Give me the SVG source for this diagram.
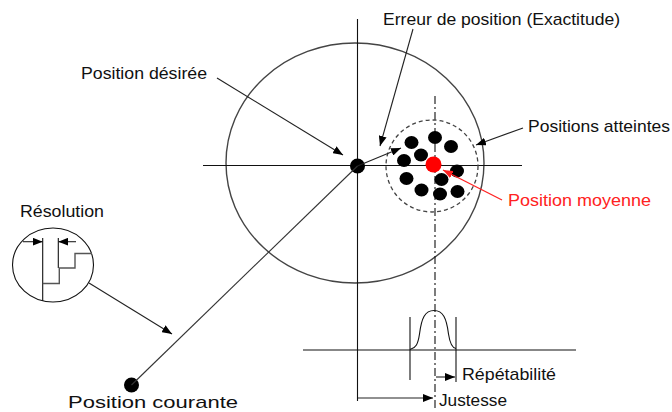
<svg xmlns="http://www.w3.org/2000/svg" width="672" height="412" viewBox="0 0 672 412">
<style>
text{font-family:"Liberation Sans",Arial,sans-serif;font-size:17px;fill:#111}
.ln{stroke:#111;stroke-width:1.1;fill:none}
.g{stroke:#444;stroke-width:1.4;fill:none}
.dot{fill:#000}
.ar{stroke:#222;stroke-width:1.1;fill:none;marker-end:url(#ah)}
</style>
<defs>
<marker id="ah" viewBox="0 0 10 8" refX="10" refY="4" markerWidth="10" markerHeight="8" markerUnits="userSpaceOnUse" orient="auto"><path d="M0,0L10,4L0,8z" fill="#000"/></marker>
<marker id="ahr" viewBox="0 0 10 8" refX="10" refY="4" markerWidth="10" markerHeight="8" markerUnits="userSpaceOnUse" orient="auto"><path d="M0,0L10,4L0,8z" fill="#f22"/></marker>
</defs>
<rect width="672" height="412" fill="#fff"/>
<g id="target">
<ellipse class="g" cx="355" cy="163" rx="129" ry="120"/>
<line class="ln" x1="203" y1="165.5" x2="522" y2="165.5"/>
<line class="ln" x1="357.5" y1="19" x2="357.5" y2="401"/>
<line class="ln" x1="435" y1="96" x2="435" y2="410" stroke-dasharray="8 3 2 3"/>
<circle cx="432" cy="166" r="46" fill="none" stroke="#444" stroke-width="1.3" stroke-dasharray="4 3"/>
</g>
<g id="desired">
<circle class="dot" cx="357.5" cy="166" r="7.5"/>
</g>
<g id="reached">
<ellipse class="dot" cx="411.5" cy="142.5" rx="7" ry="6.5"/>
<ellipse class="dot" cx="435" cy="137.5" rx="7" ry="6.5"/>
<ellipse class="dot" cx="451" cy="146.5" rx="7" ry="6.5"/>
<ellipse class="dot" cx="421" cy="155" rx="7" ry="6.5"/>
<ellipse class="dot" cx="404" cy="160.5" rx="7" ry="6.5"/>
<ellipse class="dot" cx="457" cy="171" rx="7" ry="6.5"/>
<ellipse class="dot" cx="406.5" cy="178.5" rx="7" ry="6.5"/>
<ellipse class="dot" cx="441.5" cy="179.5" rx="7" ry="6.5"/>
<ellipse class="dot" cx="421.5" cy="190" rx="7" ry="6.5"/>
<ellipse class="dot" cx="440" cy="194" rx="7" ry="6.5"/>
<ellipse class="dot" cx="457.5" cy="191.5" rx="7" ry="6.5"/>
</g>
<g id="mean">
<circle cx="433.5" cy="164.5" r="8" fill="#f00"/>
</g>
<g id="current">
<circle class="dot" cx="131.5" cy="385" r="7.5"/>
</g>
<g id="resolution">
<ellipse class="ln" cx="53" cy="265" rx="40.5" ry="37"/>
<line class="ln" x1="42.7" y1="238" x2="42.7" y2="301"/>
<line class="ln" x1="58.3" y1="238" x2="58.3" y2="268"/>
<path d="M42.7,283.5H59.3V268H75V253.5H92" stroke="#555" stroke-width="1.4" fill="none"/>
<line class="ar" x1="23" y1="241.7" x2="42.7" y2="241.7"/>
<line class="ar" x1="76" y1="241.7" x2="58.3" y2="241.7"/>
</g>
<g id="distribution">
<line class="ln" x1="303" y1="350" x2="576" y2="350"/>
<line class="ln" x1="410" y1="317" x2="410" y2="380"/>
<line class="ln" x1="456" y1="317" x2="456" y2="382"/>
<path class="ln" d="M410,349.5C416,348 418,344 419.5,334C421.5,318 425,310.5 434,310.5C443,310.5 446.5,318 448.5,334C450,344 452,348 456,348.5"/>
</g>
<g id="connectors">
<line class="ar" x1="357.5" y1="166" x2="401" y2="148"/>
<line class="ar" x1="217" y1="78" x2="343" y2="155"/>
<line class="ar" x1="413" y1="29" x2="380" y2="146"/>
<line class="ar" x1="523" y1="128" x2="476" y2="145"/>
<line x1="502" y1="200" x2="443" y2="170" stroke="#f22" stroke-width="1.3" marker-end="url(#ahr)"/>
<line x1="131.5" y1="385" x2="357.5" y2="166" stroke="#333" stroke-width="1.1"/>
<line class="ar" x1="89" y1="283" x2="172" y2="334"/>
<line class="ar" x1="436" y1="377" x2="455" y2="377"/>
<line class="ar" x1="358" y1="398" x2="433" y2="398"/>
</g>
<g id="labels">
<text x="383" y="25" textLength="237" lengthAdjust="spacingAndGlyphs">Erreur de position (Exactitude)</text>
<text x="81" y="79" textLength="126" lengthAdjust="spacingAndGlyphs">Position désirée</text>
<text x="528" y="132" textLength="142" lengthAdjust="spacingAndGlyphs">Positions atteintes</text>
<text x="508" y="206" textLength="143" lengthAdjust="spacingAndGlyphs" style="fill:#f22">Position moyenne</text>
<text x="20" y="217" textLength="84" lengthAdjust="spacingAndGlyphs">Résolution</text>
<text x="68" y="408" textLength="170" lengthAdjust="spacingAndGlyphs">Position courante</text>
<text x="462" y="380" textLength="94" lengthAdjust="spacingAndGlyphs">Répétabilité</text>
<text x="439" y="406" textLength="68" lengthAdjust="spacingAndGlyphs">Justesse</text>
</g>
</svg>
